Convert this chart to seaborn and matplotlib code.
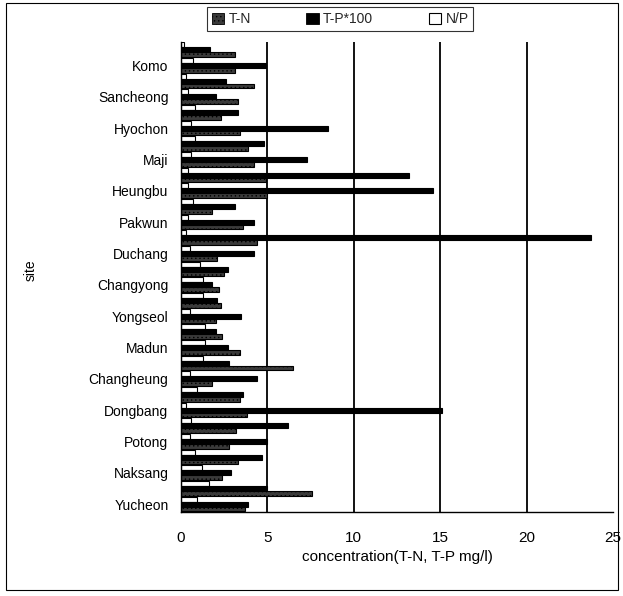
import numpy as np
import pandas as pd
import matplotlib
matplotlib.use("Agg")
import matplotlib.pyplot as plt
import seaborn as sns
from matplotlib.patches import Patch, Rectangle

# Category labels, top to bottom (only every other site is labelled in the original)
site_labels = ["", "Komo", "", "Sancheong", "", "Hyochon", "", "Maji", "", "Heungbu",
               "", "Pakwun", "", "Duchang", "", "Changyong", "", "Yongseol", "", "Madun",
               "", "Changheung", "", "Dongbang", "", "Potong", "", "Naksang", "", "Yucheon"]

# Values (top to bottom)
np_ratio = [0.2, 0.7, 0.3, 0.4, 0.8, 0.6, 0.8, 0.6, 0.4, 0.4,
            0.7, 0.4, 0.3, 0.5, 1.1, 1.3, 1.3, 0.5, 1.4, 1.4,
            1.3, 0.5, 0.9, 0.3, 0.6, 0.5, 0.8, 1.2, 1.6, 0.9]
tp100 = [1.7, 4.9, 2.6, 2.0, 3.3, 8.5, 4.8, 7.3, 13.2, 14.6,
         3.1, 4.2, 23.7, 4.2, 2.7, 1.8, 2.1, 3.5, 2.0, 2.7,
         2.8, 4.4, 3.6, 15.1, 6.2, 5.0, 4.7, 2.9, 5.0, 3.9]
tn = [3.1, 3.1, 4.2, 3.3, 2.3, 3.4, 3.9, 4.2, 4.9, 5.0,
      1.8, 3.6, 4.4, 2.1, 2.5, 2.2, 2.3, 2.0, 2.4, 3.4,
      6.5, 1.8, 3.4, 3.8, 3.2, 2.8, 3.3, 2.4, 7.6, 3.7]
series_names = ["T-N", "T-P*100", "N/P"]

n = len(site_labels)
rows = list(range(n))
df = pd.DataFrame({
    "row": rows * 3,
    "series": [series_names[0]] * n + [series_names[1]] * n + [series_names[2]] * n,
    "value": tn + tp100 + np_ratio,
})

sns.set_theme(style="white")
plt.rcParams["font.family"] = ["Liberation Sans", "DejaVu Sans"]
plt.rcParams["hatch.linewidth"] = 0.5

fig = plt.figure(figsize=(6.23, 5.96), dpi=100)
ax = fig.add_axes([0.2905, 0.141, 0.6934, 0.7886])

hue_order = ["N/P", "T-P*100", "T-N"]
pal = {"N/P": "white", "T-P*100": "black", "T-N": "#3a3a3a"}
sns.barplot(data=df, x="value", y="row", hue="series", hue_order=hue_order,
            orient="h", palette=pal, width=0.94, ax=ax, legend=False,
            edgecolor="black", linewidth=0.8)

for bar in ax.containers[2]:
    bar.set_hatch("....")

for v in [5, 10, 15, 20]:
    ax.axvline(v, color="black", lw=1.3, zorder=0.5)

ax.set_xlim(0, 25)
ax.set_ylim(n - 0.5, -0.5)
ax.set_xticks(range(0, 26, 5))
ax.set_yticks(rows)
ax.set_yticklabels(site_labels)
ax.tick_params(axis="x", length=0, pad=14, labelsize=11, colors="black")
ax.tick_params(axis="y", length=0, pad=9, labelsize=10, colors="black")

for s in ["top", "right"]:
    ax.spines[s].set_visible(False)
for s in ["left", "bottom"]:
    ax.spines[s].set_color("black")
    ax.spines[s].set_linewidth(1.0)

ax.set_xlabel("concentration(T-N, T-P mg/l)", fontsize=11, color="black", labelpad=3)
ax.set_ylabel("site", fontsize=10, color="black")
ax.yaxis.set_label_coords(-0.331, 0.515)

handles = [Patch(facecolor="#3a3a3a", edgecolor="black", hatch="....", lw=0.6),
           Patch(facecolor="black", edgecolor="black", lw=0.6),
           Patch(facecolor="white", edgecolor="black", lw=0.8)]
leg = fig.legend(handles, series_names, loc="center", bbox_to_anchor=(0.546, 0.968),
                 ncol=3, frameon=True, fancybox=False, edgecolor="black",
                 fontsize=10, handlelength=0.9, handleheight=0.9,
                 handletextpad=0.3, columnspacing=4.0, borderpad=0.35)
leg.get_frame().set_linewidth(0.8)

fig.patches.append(Rectangle((0.0096, 0.010), 0.982, 0.985, transform=fig.transFigure,
                             fill=False, edgecolor="black", lw=0.8))

fig.savefig("out.png", dpi=100)
